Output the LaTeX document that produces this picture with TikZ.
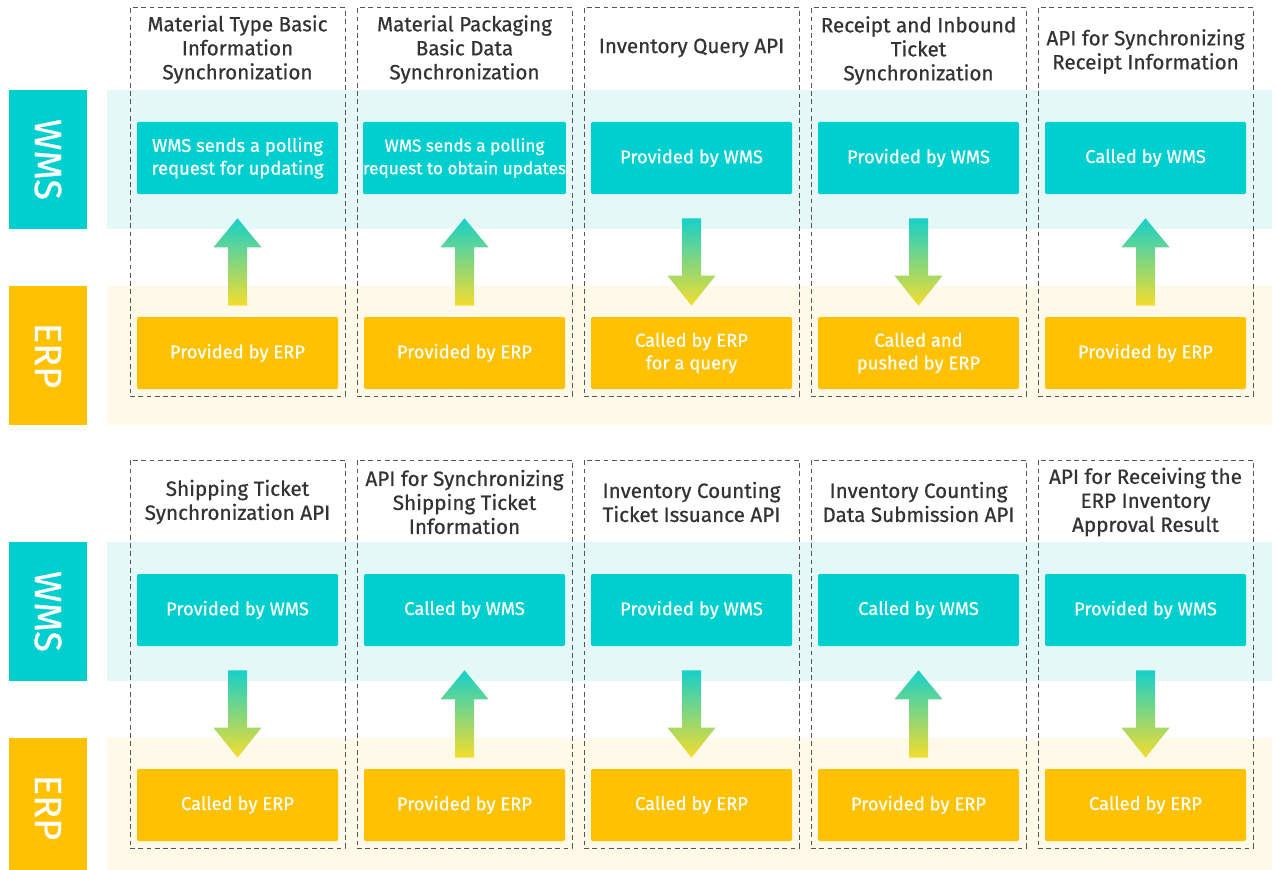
\documentclass[tikz,border=0pt]{standalone}
\usepackage{fontspec}
\setmainfont{Fira Sans}[FakeBold=0.6]
\usetikzlibrary{calc}
\definecolor{wms}{RGB}{0,207,208}
\definecolor{erp}{RGB}{255,193,0}
\definecolor{wmsband}{RGB}{227,248,247}
\definecolor{erpband}{RGB}{255,249,233}
\definecolor{titlegray}{RGB}{51,51,51}
\definecolor{dashgray}{RGB}{85,85,85}
\definecolor{arrtop}{RGB}{22,208,202}
\definecolor{arrbot}{RGB}{245,221,45}
\tikzset{
  sidelabel/.style={minimum width=139*0.75pt, minimum height=78*0.75pt, inner sep=0pt, text=white, font=\fontsize{28.5}{30}\selectfont, rotate=-90},
  band/.style={inner sep=0pt, minimum width=1165*0.75pt, minimum height=139*0.75pt},
  colbox/.style={draw=dashgray, line width=0.75pt, dash pattern=on 3.6pt off 2.6pt, inner sep=0pt, minimum width=215*0.75pt, minimum height=388*0.75pt},
  title/.style={align=center, text=titlegray, font=\fontsize{15.5}{18}\selectfont, inner sep=0pt},
  wbox/.style={fill=wms, rounded corners=1pt, minimum width=201*0.75pt, minimum height=72*0.75pt, inner sep=0pt, align=center, text=white, font=\fontsize{13.8}{17}\selectfont},
  ebox/.style={wbox, fill=erp},
  arrowfill/.style={top color=arrtop, bottom color=arrbot, draw=none},
}
\newcommand\arrowup[2]{%
  \coordinate (t) at ($(#1.south)+(0,24)$);
  \coordinate (b) at ($(#2.north)+(0,-11)$);
  \path[arrowfill] (t) -- ($(t)+(24,29)$) -- ($(t)+(9.5,29)$) -- ($(b)+(9.5,0)$) -- ($(b)+(-9.5,0)$) -- ($(t)+(-9.5,29)$) -- ($(t)+(-24,29)$) -- cycle;}
\newcommand\arrowdown[2]{%
  \coordinate (t) at ($(#1.south)+(0,24)$);
  \coordinate (b) at ($(#2.north)+(0,-11)$);
  \path[arrowfill] ($(t)+(-9.5,0)$) -- ($(t)+(9.5,0)$) -- ($(b)+(9.5,-30)$) -- ($(b)+(24,-30)$) -- (b) -- ($(b)+(-24,-30)$) -- ($(b)+(-9.5,-30)$) -- cycle;}
\begin{document}
\begin{tikzpicture}[x=0.75pt, y=-0.75pt]
\useasboundingbox (0,0) rectangle (1277,870);
% row 1
\node[band, fill=wmsband] (wb1) at (689.5,159.5) {};
\node[band, fill=erpband] (eb1) at (689.5,355.5) {};
\node[sidelabel, fill=wms] (wl1) at (48,159.5) {WMS};
\node[sidelabel, fill=erp] (el1) at (48,355.5) {ERP};
% row 2
\node[band, fill=wmsband] (wb2) at (689.5,611.5) {};
\node[band, fill=erpband] (eb2) at (689.5,807.5) {};
\node[sidelabel, fill=wms] (wl2) at (48,611.5) {WMS};
\node[sidelabel, fill=erp] (el2) at (48,807.5) {ERP};

% columns row 1
\node[colbox] (c11) at (237.5,202) {};
\node[colbox] (c12) at (464.5,202) {};
\node[colbox] (c13) at (691.5,202) {};
\node[colbox] (c14) at (918.5,202) {};
\node[colbox] (c15) at (1145.5,202) {};
\node[title] (t11) at (237.5,49.5) {Material Type Basic\\Information\\Synchronization};
\node[title] (t12) at (464.5,49.5) {Material Packaging\\Basic Data\\Synchronization};
\node[title] (t13) at (691.5,48) {Inventory Query API};
\node[title] (t14) at (918.5,50.5) {Receipt and Inbound\\Ticket\\Synchronization};
\node[title] (t15) at (1145.5,51.5) {API for Synchronizing\\Receipt Information};
\node[wbox] (w11) at (237.5,158) {WMS sends a polling\\request for updating};
\node[wbox, font=\fontsize{12.9}{17}\selectfont] (w12) at (464.5,158) {WMS sends a polling\\request to obtain updates};
\node[wbox] (w13) at (691.5,158) {Provided by WMS};
\node[wbox] (w14) at (918.5,158) {Provided by WMS};
\node[wbox] (w15) at (1145.5,158) {Called by WMS};
\node[ebox] (e11) at (237.5,353) {Provided by ERP};
\node[ebox] (e12) at (464.5,353) {Provided by ERP};
\node[ebox] (e13) at (691.5,353) {Called by ERP\\for a query};
\node[ebox] (e14) at (918.5,353) {Called and\\pushed by ERP};
\node[ebox] (e15) at (1145.5,353) {Provided by ERP};
\arrowup{w11}{e11}
\arrowup{w12}{e12}
\arrowdown{w13}{e13}
\arrowdown{w14}{e14}
\arrowup{w15}{e15}

% columns row 2
\node[colbox] (c21) at (237.5,654) {};
\node[colbox] (c22) at (464.5,654) {};
\node[colbox] (c23) at (691.5,654) {};
\node[colbox] (c24) at (918.5,654) {};
\node[colbox] (c25) at (1145.5,654) {};
\node[title] (t21) at (237.5,502) {Shipping Ticket\\Synchronization API};
\node[title] (t22) at (464.5,502) {API for Synchronizing\\Shipping Ticket\\Information};
\node[title] (t23) at (691.5,502) {Inventory Counting\\Ticket Issuance API};
\node[title] (t24) at (918.5,502) {Inventory Counting\\Data Submission API};
\node[title] (t25) at (1145.5,502) {API for Receiving the\\ERP Inventory\\Approval Result};
\node[wbox] (w21) at (237.5,610) {Provided by WMS};
\node[wbox] (w22) at (464.5,610) {Called by WMS};
\node[wbox] (w23) at (691.5,610) {Provided by WMS};
\node[wbox] (w24) at (918.5,610) {Called by WMS};
\node[wbox] (w25) at (1145.5,610) {Provided by WMS};
\node[ebox] (e21) at (237.5,805) {Called by ERP};
\node[ebox] (e22) at (464.5,805) {Provided by ERP};
\node[ebox] (e23) at (691.5,805) {Called by ERP};
\node[ebox] (e24) at (918.5,805) {Provided by ERP};
\node[ebox] (e25) at (1145.5,805) {Called by ERP};
\arrowdown{w21}{e21}
\arrowup{w22}{e22}
\arrowdown{w23}{e23}
\arrowup{w24}{e24}
\arrowdown{w25}{e25}
\end{tikzpicture}
\end{document}
